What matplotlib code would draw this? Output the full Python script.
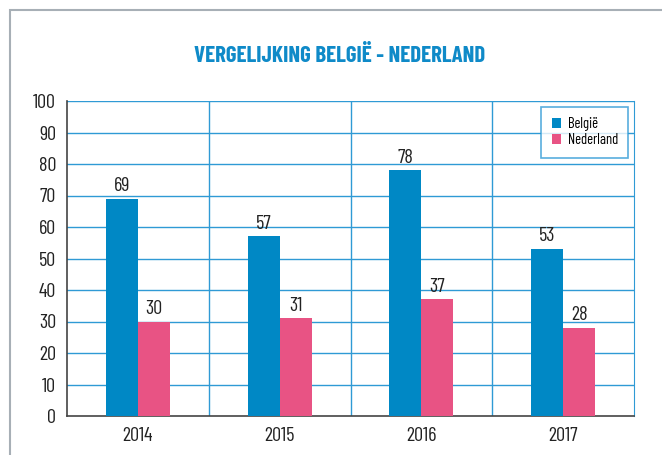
import matplotlib
matplotlib.use("Agg")
import matplotlib.pyplot as plt
from matplotlib.patches import Rectangle
import numpy as np

years = ["2014", "2015", "2016", "2017"]
belgie = [69, 57, 78, 53]
nederland = [30, 31, 37, 28]
series_names = ["België", "Nederland"]

plt.rcParams['font.family'] = ['Barlow Condensed', 'Roboto Condensed', 'DejaVu Sans']

blue = "#0088C5"
pink = "#E85384"
grid = "#2F9AD5"
textc = "#222222"

fig = plt.figure(figsize=(6.62, 4.55), dpi=100)
# outer frame
fig.add_artist(Rectangle((9.5/662, -0.1), 1.2, 1 - 9.5/455 + 0.1, transform=fig.transFigure,
                         fill=False, edgecolor="#A7AFB6", linewidth=1.5))

ax = fig.add_axes([67/662, 39/455, 567/662, 315/455])
x = np.arange(len(years))
w = 0.226
b1 = ax.bar(x - w/2, belgie, w, color=blue, label=series_names[0], zorder=3)
b2 = ax.bar(x + w/2, nederland, w, color=pink, label=series_names[1], zorder=3)
for bars, vals in ((b1, belgie), (b2, nederland)):
    for r, v in zip(bars, vals):
        ax.text(r.get_x() + r.get_width()/2, v + 1.2, str(v), ha="center", va="bottom",
                fontsize=14.5, color=textc)

ax.set_xlim(-0.5, 3.5)
ax.set_ylim(0, 100)
ax.set_yticks(range(0, 101, 10))
ax.set_xticks(x)
ax.set_xticklabels(years)
for v in range(10, 101, 10):
    ax.axhline(v, color=grid, linewidth=1.0, zorder=1)
for v in [0.5, 1.5, 2.5]:
    ax.axvline(v, color=grid, linewidth=1.0, zorder=1)
ax.spines['top'].set_visible(False)
ax.spines['right'].set_color(grid)
ax.spines['left'].set_color("#444444")
ax.spines['bottom'].set_color("#444444")
ax.spines['left'].set_linewidth(1.2)
ax.spines['bottom'].set_linewidth(1.2)
ax.tick_params(axis="both", length=0, labelsize=14.5, colors=textc)
ax.tick_params(axis="x", pad=8)
ax.tick_params(axis="y", pad=8)

leg = ax.legend(loc="upper right", bbox_to_anchor=((628-67)/567, (416-107)/315),
                fontsize=10.5, frameon=True,
                fancybox=False, handlelength=0.65, handleheight=0.65, handletextpad=0.45,
                borderpad=0.7, labelspacing=0.15, borderaxespad=0)
leg.get_frame().set_edgecolor(grid)
leg.get_frame().set_linewidth(1.2)

fig.text(340/662, 1 - 56/455, "VERGELIJKING BELGIË - NEDERLAND", ha="center", va="center",
         fontsize=16.5, fontweight="bold", color="#0F8AC8")

fig.savefig("out.png", dpi=100)
